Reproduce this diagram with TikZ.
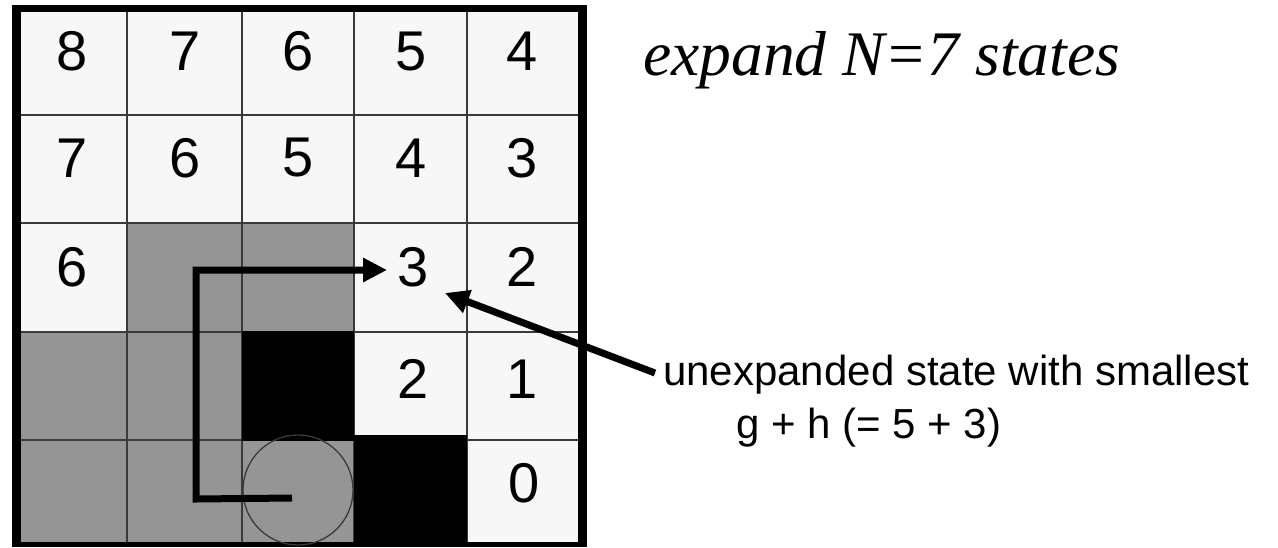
\documentclass[tikz,border=0pt]{standalone}
\usepackage{fontspec}
\setmainfont{Liberation Serif}
\setsansfont{Liberation Sans}
\usetikzlibrary{arrows.meta}
\definecolor{cellwhite}{HTML}{F7F7F7}
\definecolor{cellgray}{HTML}{959595}
\definecolor{gridline}{HTML}{3A3A3A}
\tikzset{
  digit/.style={font=\sffamily\fontsize{56}{60}\selectfont, inner sep=0pt, anchor=center},
  gline/.style={draw=gridline, line width=1.6},
  pathline/.style={line width=7, line join=miter},
  arrowtip/.style={-{Triangle[length=24pt,width=23pt]}},
  lbl/.style={font=\sffamily\fontsize{42}{48}\selectfont, inner sep=0pt, anchor=base west},
  titletext/.style={font=\itshape\fontsize{63.5}{70}\selectfont, inner sep=0pt, anchor=base west}
}
\begin{document}
\begin{tikzpicture}[x=1pt,y=-1pt]
\useasboundingbox (0,0) rectangle (1278,547);
% outer frame
\fill[black] (12,5) rectangle (587,547);
\fill[cellwhite] (21,12) rectangle (578,542);
% gray cells
\fill[cellgray] (127,223) rectangle (354,332);
\fill[cellgray] (21,332) rectangle (242,440);
\fill[cellgray] (21,440) rectangle (354,542);
% grid lines
\foreach \x in {127,242,354,467} \draw[gline] (\x,12) -- (\x,542);
\foreach \y in {115,223,332,440} \draw[gline] (21,\y) -- (578,\y);
% black cells
\fill[black] (242,331) rectangle (354,441);
\fill[black] (354,435) rectangle (467,542);
% circle (start)
\draw[draw=gridline, line width=1.3] (298,490) circle (55);
% digits
\node[digit] (d00) at (72,51.5) {8};
\node[digit] (d01) at (185,51.5) {7};
\node[digit] (d02) at (298,51.5) {6};
\node[digit] (d03) at (411,51.5) {5};
\node[digit] (d04) at (522,51.5) {4};
\node[digit] (d10) at (72,158) {7};
\node[digit] (d11) at (185,158) {6};
\node[digit] (d12) at (298,158) {5};
\node[digit] (d13) at (411,158) {4};
\node[digit] (d14) at (522,158) {3};
\node[digit] (d20) at (72,267) {6};
\node[digit] (d23) at (413,267.5) {3};
\node[digit] (d24) at (522,267) {2};
\node[digit] (d33) at (413,378.5) {2};
\node[digit] (d34) at (522,379) {1};
\node[digit] (d44) at (524,483) {0};
% path
\coordinate (pstart) at (292,498);
\coordinate (pc1) at (196,499);
\coordinate (pc2) at (196,270);
\coordinate (ptip) at (387,270);
\draw[pathline, arrowtip] (pstart) -- (pc1) -- (pc2) -- (ptip);
% texts
\node[titletext] (title) at (643,75) {expand N=7 states};
\node[lbl] (l1) at (663,385) {unexpanded state with smallest};
\node[lbl] (l2) at (736,438) {g + h (= 5 + 3)};
% pointer arrow
\coordinate (atail) at (655,373);
\coordinate (ahead) at (445,293);
\draw[pathline, arrowtip] (atail) -- (ahead);
\end{tikzpicture}
\end{document}
